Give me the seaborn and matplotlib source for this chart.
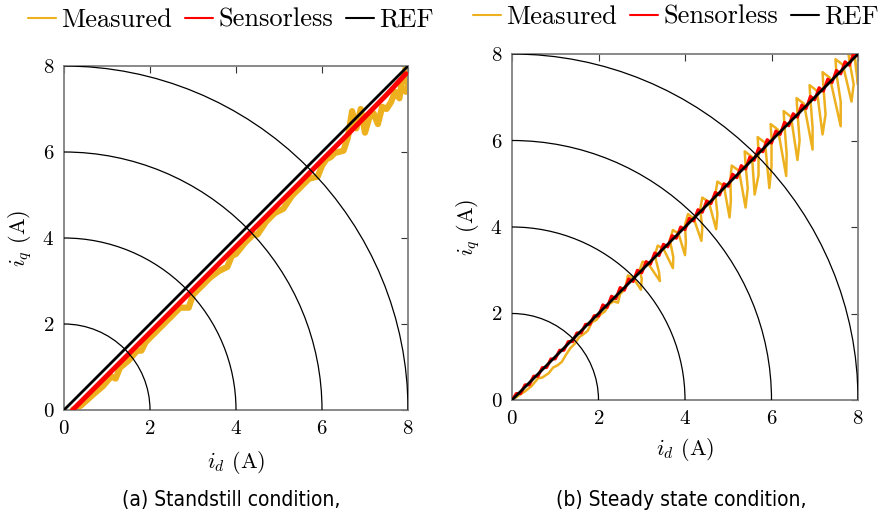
import matplotlib
matplotlib.use("Agg")
import matplotlib.pyplot as plt
from matplotlib.patches import Arc
from matplotlib.lines import Line2D
import seaborn as sns

# ---------------- data ----------------
ref_d = [0.0, 8.0]
ref_q = [0.0, 8.0]
circle_radii = [2, 4, 6, 8]
ticks = [0, 2, 4, 6, 8]

# (a) standstill
sl_a_d = [0.2, 0.5, 1.0, 1.5, 2.0, 2.5, 3.0, 3.5, 4.0, 4.5, 5.0, 5.5, 6.0, 6.5, 7.0, 7.5, 7.95]
sl_a_q = [0.0, 0.30, 0.80, 1.30, 1.80, 2.30, 2.80, 3.30, 3.80, 4.30, 4.80, 5.30, 5.81, 6.31, 6.82, 7.33, 7.82]

meas_a_d = [0.2, 0.4, 0.7, 0.9, 1.1, 1.2, 1.3, 1.5, 1.7, 1.8, 1.9, 2.1, 2.3, 2.5, 2.7, 2.9,
            3.0, 3.2, 3.4, 3.6, 3.8, 3.9, 4.0, 4.2, 4.4, 4.5, 4.7, 4.9, 5.1, 5.2, 5.3, 5.5,
            5.7, 5.9, 6.0, 6.1, 6.2, 6.3, 6.5, 6.6, 6.7, 6.8, 6.9, 7.0, 7.1, 7.2, 7.3, 7.4,
            7.5, 7.6, 7.7, 7.8, 7.85, 7.9, 7.95, 8.0, 7.95]
meas_a_q = [0.0, 0.11, 0.38, 0.55, 0.78, 0.73, 0.98, 1.15, 1.38, 1.38, 1.58, 1.78, 1.98, 2.18, 2.38, 2.38,
            2.68, 2.88, 3.08, 3.23, 3.33, 3.58, 3.63, 3.88, 4.08, 4.08, 4.38, 4.58, 4.68, 4.83, 4.98, 5.18,
            5.38, 5.43, 5.68, 5.83, 5.88, 5.98, 6.03, 6.33, 6.95, 6.55, 7.00, 6.45, 6.80, 6.90, 6.65, 7.05,
            7.00, 7.15, 7.40, 7.25, 7.60, 7.75, 7.95, 7.55, 7.40]

# (b) steady state
sl_b_d = [0.0, 0.1, 0.2, 0.3, 0.4, 0.5, 0.6, 0.7, 0.8, 0.9, 1.0, 1.1, 1.2, 1.3, 1.4, 1.5, 1.6, 1.7, 1.8, 1.9,
          2.0, 2.1, 2.2, 2.3, 2.4, 2.5, 2.6, 2.7, 2.8, 2.9, 3.0, 3.1, 3.2, 3.3, 3.4, 3.5, 3.6, 3.7, 3.8, 3.9,
          4.0, 4.1, 4.2, 4.3, 4.4, 4.5, 4.6, 4.7, 4.8, 4.9, 5.0, 5.1, 5.2, 5.3, 5.4, 5.5, 5.6, 5.7, 5.8, 5.9,
          6.0, 6.1, 6.2, 6.3, 6.4, 6.5, 6.6, 6.7, 6.8, 6.9, 7.0, 7.1, 7.2, 7.3, 7.4, 7.5, 7.6, 7.7, 7.8, 7.9, 8.0]
sl_b_q = [0.00, 0.15, 0.15, 0.35, 0.35, 0.55, 0.55, 0.75, 0.75, 0.95, 0.95, 1.15, 1.15, 1.35, 1.35, 1.55, 1.55, 1.75, 1.75, 1.95,
          1.94, 2.20, 2.14, 2.40, 2.34, 2.60, 2.54, 2.80, 2.74, 3.00, 2.94, 3.20, 3.14, 3.40, 3.34, 3.60, 3.54, 3.80, 3.74, 4.00,
          3.94, 4.20, 4.14, 4.40, 4.34, 4.60, 4.54, 4.80, 4.74, 5.00, 4.94, 5.22, 5.14, 5.42, 5.34, 5.62, 5.54, 5.82, 5.74, 6.02,
          5.94, 6.22, 6.14, 6.42, 6.34, 6.62, 6.54, 6.82, 6.74, 7.02, 6.94, 7.22, 7.14, 7.42, 7.34, 7.62, 7.54, 7.82, 7.74, 8.02, 7.96]

meas_b_d = [0.0, 0.15, 0.3, 0.45, 0.6, 0.7, 0.85, 0.95, 1.05, 1.15, 1.25, 1.35, 1.45, 1.55, 1.65, 1.75,
            1.85, 1.95, 2.05, 2.15, 2.25, 2.35, 2.45, 2.5, 2.6, 2.65,
            2.68, 2.80, 2.98, 3.00, 2.95,
            3.02, 3.15, 3.42, 3.40, 3.30,
            3.37, 3.50, 3.72, 3.73, 3.65,
            3.72, 3.85, 4.00, 4.02, 4.00,
            4.07, 4.20, 4.38, 4.40, 4.35,
            4.40, 4.55, 4.72, 4.75, 4.70,
            4.75, 4.90, 5.03, 5.06, 5.05,
            5.08, 5.25, 5.40, 5.45, 5.40,
            5.38, 5.55, 5.61, 5.70, 5.70,
            5.68, 5.85, 5.95, 6.00, 6.00,
            5.98, 6.15, 6.34, 6.35, 6.30,
            6.28, 6.45, 6.60, 6.65, 6.60,
            6.58, 6.75, 6.95, 6.95, 6.90,
            6.88, 7.05, 7.18, 7.25, 7.20,
            7.18, 7.35, 7.60, 7.60, 7.50,
            7.48, 7.65, 7.85, 7.90, 7.80,
            7.78, 7.92, 8.00, 8.00, 8.00]
meas_b_q = [0.0, 0.10, 0.2, 0.32, 0.5, 0.52, 0.62, 0.75, 0.80, 0.88, 1.05, 1.20, 1.30, 1.45, 1.52, 1.60,
            1.80, 1.85, 1.98, 2.05, 2.22, 2.28, 2.25, 2.45, 2.55, 2.72,
            2.88, 2.83, 2.55, 2.80, 3.00,
            3.20, 3.15, 2.75, 2.95, 3.35,
            3.57, 3.50, 3.05, 3.30, 3.70,
            3.93, 3.85, 3.35, 3.65, 4.05,
            4.30, 4.20, 3.68, 4.00, 4.40,
            4.68, 4.58, 3.95, 4.30, 4.75,
            5.05, 4.95, 4.22, 4.60, 5.10,
            5.42, 5.30, 4.45, 4.90, 5.45,
            5.75, 5.62, 4.75, 5.20, 5.75,
            6.08, 5.95, 4.90, 5.40, 6.05,
            6.38, 6.25, 5.18, 5.70, 6.35,
            6.68, 6.55, 5.55, 6.00, 6.65,
            6.98, 6.85, 5.79, 6.30, 6.95,
            7.28, 7.15, 6.14, 6.60, 7.25,
            7.58, 7.45, 6.33, 6.90, 7.55,
            7.88, 7.75, 6.90, 7.30, 7.85,
            8.00, 7.95, 7.29, 7.60, 8.00]

# ---------------- style ----------------
sns.set_theme(style="white")
plt.rcParams["font.family"] = ["cmr10", "DejaVu Serif"]
plt.rcParams["mathtext.fontset"] = "cm"
plt.rcParams["axes.formatter.use_mathtext"] = True
plt.rcParams["axes.unicode_minus"] = False
plt.rcParams["text.color"] = "black"
plt.rcParams["axes.labelcolor"] = "black"

C_MEAS = "#EDB120"
C_SL = "#FF0000"
C_REF = "#000000"

fig = plt.figure(figsize=(8.88, 5.23), dpi=100)
ax_a = fig.add_axes([64 / 888, 1 - 410 / 523, 344 / 888, 344 / 523])
ax_b = fig.add_axes([512 / 888, 1 - 400 / 523, 346 / 888, 346 / 523])


def draw_panel(ax, md, mq, sd, sq, meas_lw, sl_lw, lab_pad):
    sns.lineplot(x=md, y=mq, ax=ax, sort=False, estimator=None, color=C_MEAS,
                 lw=meas_lw, zorder=2, solid_joinstyle="round")
    sns.lineplot(x=sd, y=sq, ax=ax, sort=False, estimator=None, color=C_SL,
                 lw=sl_lw, zorder=3)
    sns.lineplot(x=ref_d, y=ref_q, ax=ax, sort=False, estimator=None, color=C_REF,
                 lw=2.0, zorder=4)
    for r in circle_radii:
        ax.add_patch(Arc((0, 0), 2 * r, 2 * r, theta1=0, theta2=90,
                         color="black", lw=0.9, zorder=5))
    ax.set_xlim(0, 8)
    ax.set_ylim(0, 8)
    ax.set_xticks(ticks)
    ax.set_yticks(ticks)
    ax.set_xlabel(r"$i_d$ (A)", fontsize=16, labelpad=lab_pad)
    ax.set_ylabel(r"$i_q$ (A)", fontsize=16, labelpad=6)
    ax.tick_params(direction="in", length=5, width=0.8, color="0.2",
                   labelcolor="black", labelsize=15, top=True, right=True, pad=7)
    for s in ax.spines.values():
        s.set_color("0.5")
        s.set_linewidth(1.3)
    ax.set_facecolor("white")


draw_panel(ax_a, meas_a_d, meas_a_q, sl_a_d, sl_a_q, 4.5, 3.6, 8)
draw_panel(ax_b, meas_b_d, meas_b_q, sl_b_d, sl_b_q, 1.8, 2.2, 6)

handles = [Line2D([], [], color=C_MEAS, lw=1.5),
           Line2D([], [], color=C_SL, lw=1.5),
           Line2D([], [], color=C_REF, lw=1.5)]
labels = ["Measured", "Sensorless", "REF"]
for ax, cx, cy in [(ax_a, 231 / 888, 1 - 20 / 523), (ax_b, 676 / 888, 1 - 17 / 523)]:
    ax.legend(handles, labels, loc="center", bbox_to_anchor=(cx, cy),
              bbox_transform=fig.transFigure, ncol=3, frameon=False,
              fontsize=19, handlelength=1.05, handletextpad=0.2,
              columnspacing=0.5, borderaxespad=0, borderpad=0)

cap_kw = dict(ha="center", va="center", fontsize=15, family="DejaVu Sans",
              fontstretch="condensed")
fig.text(231 / 888, 1 - 500 / 523, "(a) Standstill condition,", **cap_kw)
fig.text(681 / 888, 1 - 500 / 523, "(b) Steady state condition,", **cap_kw)

fig.savefig("out.png", dpi=100, facecolor="white")
